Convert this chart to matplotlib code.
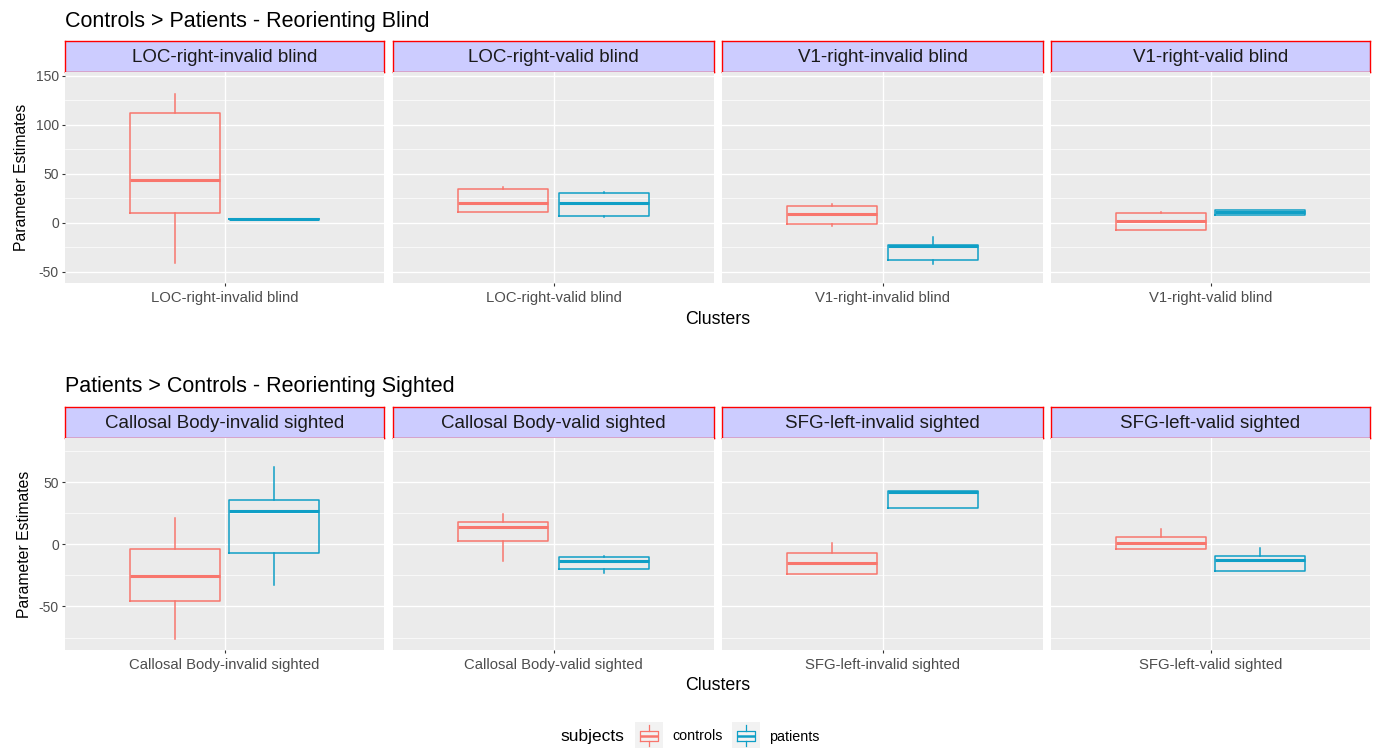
import numpy as np
import matplotlib.pyplot as plt

plt.rcParams['font.family'] = ['Liberation Sans', 'DejaVu Sans']

# five-number summaries per cluster: (lower whisker, q1, median, q3, upper whisker)
blind_clusters = ['LOC-right-invalid blind', 'LOC-right-valid blind',
                  'V1-right-invalid blind', 'V1-right-valid blind']
blind_controls = [(-41, 9.6, 44, 112, 132),
                  (10.6, 10.6, 20.4, 34, 36.7),
                  (-3, -1.6, 8.9, 16.7, 18.8),
                  (-7.4, -7.4, 1.4, 10.2, 11.2)]
blind_patients = [(3.5, 3.5, 3.5, 3.5, 3.5),
                  (5.5, 6.8, 20.4, 30.6, 31.6),
                  (-41.8, -38.4, -23.8, -22.8, -14.3),
                  (8.2, 8.2, 11.2, 12.6, 12.6)]

sighted_clusters = ['Callosal Body-invalid sighted', 'Callosal Body-valid sighted',
                    'SFG-left-invalid sighted', 'SFG-left-valid sighted']
sighted_controls = [(-76, -45.7, -25.5, -4, 21),
                    (-13.1, 3, 13.7, 18.3, 24),
                    (-23.6, -23.6, -15.3, -6.7, 1.3),
                    (-3.5, -3.5, 1.3, 5.6, 12.6)]
sighted_patients = [(-33, -6.7, 26.9, 35.7, 62),
                    (-22.8, -19.6, -13.4, -10.2, -9.1),
                    (29, 29, 42.1, 42.8, 42.8),
                    (-21.8, -21.8, -12.7, -9.4, -3.2)]

groups = ['controls', 'patients']
colors = {'controls': '#F8766D', 'patients': '#0F9FC6'}

W, H = 1378, 748
fig = plt.figure(figsize=(W / 100, H / 100), dpi=100)


def rect(x0, y0, x1, y1):
    return [x0 / W, 1 - y1 / H, (x1 - x0) / W, (y1 - y0) / H]


def to_stats(t):
    lo, q1, med, q3, hi = t
    return dict(whislo=lo, q1=q1, med=med, q3=q3, whishi=hi, fliers=[])


def draw_box(ax, t, pos, width, color, lw=1.1):
    ax.bxp([to_stats(t)], positions=[pos], widths=width, showcaps=False,
           showfliers=False, manage_ticks=False,
           boxprops=dict(color=color, lw=lw),
           whiskerprops=dict(color=color, lw=lw),
           medianprops=dict(color=color, lw=2 * lw))


panel_x = [(65, 384), (393, 714), (722, 1043), (1051, 1370)]


def draw_row(title, clusters, ctrl, pat, strip_y, panel_y, ylim, major, minor):
    y_title = strip_y[0] - 20
    fig.text(65 / W, 1 - y_title / H, title, fontsize=15.5, color='black',
             ha='left', va='center')
    for i, (x0, x1) in enumerate(panel_x):
        sax = fig.add_axes(rect(x0, strip_y[0], x1, strip_y[1]))
        sax.set_facecolor('#CCCCFF')
        sax.set_xticks([])
        sax.set_yticks([])
        for sp in sax.spines.values():
            sp.set_color('red')
            sp.set_linewidth(1.0)
        sax.text(0.5, 0.47, clusters[i], transform=sax.transAxes, ha='center',
                 va='center', fontsize=13.5, color='#1A1A1A')

        ax = fig.add_axes(rect(x0, panel_y[0], x1, panel_y[1]))
        ax.set_facecolor('#EBEBEB')
        for sp in ax.spines.values():
            sp.set_visible(False)
        ax.set_xlim(0.4, 1.6)
        ax.set_ylim(*ylim)
        ax.set_yticks(major)
        ax.set_yticks(minor, minor=True)
        ax.grid(which='major', color='white', lw=1.0)
        ax.grid(which='minor', axis='y', color='white', lw=0.5)
        ax.set_axisbelow(True)
        ax.set_xticks([1])
        ax.set_xticklabels([clusters[i]])
        ax.tick_params(axis='x', length=2.5, width=0.8, color='#333333',
                       labelsize=10.7, labelcolor='#4D4D4D', pad=3.5)
        ax.tick_params(axis='y', which='minor', length=0)
        if i == 0:
            ax.set_yticklabels([f'{v:g}' for v in major])
            ax.tick_params(axis='y', length=2.5, width=0.8, color='#333333',
                           labelsize=10, labelcolor='#4D4D4D', pad=2)
            ax.set_ylabel('Parameter Estimates', fontsize=11.3, color='black',
                          labelpad=5)
        else:
            ax.tick_params(axis='y', length=0, labelleft=False)

        draw_box(ax, ctrl[i], 1 - 0.1875, 0.3375, colors['controls'])
        draw_box(ax, pat[i], 1 + 0.1875, 0.3375, colors['patients'])

    fig.text(717.5 / W, 1 - (panel_y[1] + 36) / H, 'Clusters', fontsize=12.8,
             ha='center', va='center', color='black')


draw_row('Controls > Patients - Reorienting Blind', blind_clusters,
         blind_controls, blind_patients, (41, 72), (72, 283),
         (-61.5, 154), [-50, 0, 50, 100, 150], [-25, 25, 75, 125])
draw_row('Patients > Controls - Reorienting Sighted', sighted_clusters,
         sighted_controls, sighted_patients, (407, 438), (438, 650),
         (-85, 85.5), [-50, 0, 50], [-75, -25, 25, 75])

# legend
y_leg = 736.5
fig.text(560 / W, 1 - y_leg / H, 'subjects', fontsize=12.5, ha='left',
         va='center', color='black')
key_x = {'controls': 635, 'patients': 732}
for g in groups:
    kx = key_x[g]
    kax = fig.add_axes(rect(kx, 722, kx + 28, 749))
    kax.set_facecolor('#F2F2F2')
    for sp in kax.spines.values():
        sp.set_visible(False)
    kax.set_xticks([])
    kax.set_yticks([])
    kax.set_xlim(0, 1)
    kax.set_ylim(0, 1)
    draw_box(kax, (0.1, 0.3, 0.47, 0.66, 0.9), 0.5, 0.66, colors[g], lw=0.9)
    fig.text((kx + 37) / W, 1 - y_leg / H, g, fontsize=10.3, ha='left',
             va='center', color='black')

fig.savefig('out.png', dpi=100)
